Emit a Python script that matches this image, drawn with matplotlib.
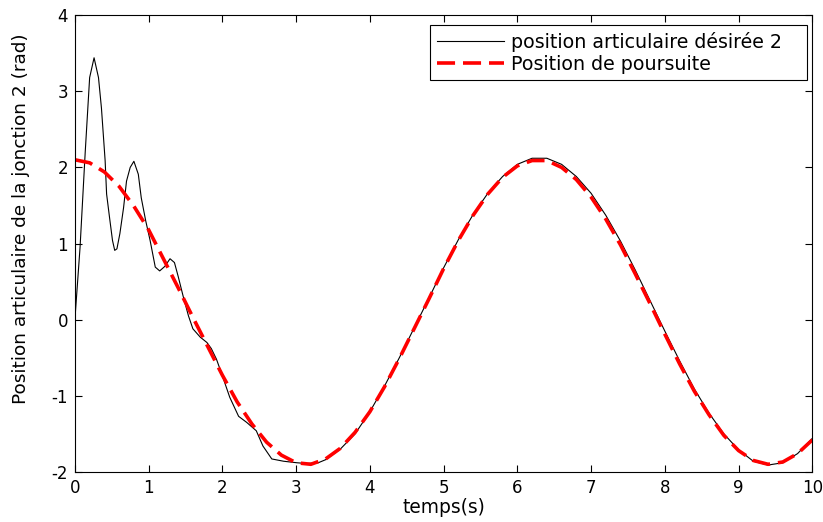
import numpy as np
import matplotlib
matplotlib.use("Agg")
import matplotlib.pyplot as plt

matplotlib.rcParams.update({'font.family': ['DejaVu Sans'], 'font.size': 12,
                            'axes.unicode_minus': False})

# desired joint position (black)
t_des = [0.00, 0.07, 0.14, 0.20, 0.26, 0.32, 0.36, 0.41, 0.43, 0.47, 0.51, 0.54, 0.57,
         0.61, 0.66, 0.70, 0.75, 0.80, 0.86, 0.90, 0.96, 1.02, 1.09, 1.15, 1.22, 1.29,
         1.35, 1.40, 1.47, 1.54, 1.60, 1.70, 1.79, 1.85, 1.92, 1.99, 2.10, 2.22, 2.33,
         2.46, 2.55, 2.67, 2.83, 3.01, 3.14, 3.30,
         3.4, 3.6, 3.8, 4.0, 4.2, 4.4, 4.6, 4.8, 5.0, 5.2, 5.4, 5.6, 5.8, 6.0, 6.2, 6.4,
         6.6, 6.8, 7.0, 7.2, 7.4, 7.6, 7.8, 8.0, 8.2, 8.4, 8.6, 8.8, 9.0, 9.2, 9.4, 9.6,
         9.8, 10.0]
y_des = [0.00, 0.95, 2.20, 3.18, 3.44, 3.18, 2.78, 2.09, 1.65, 1.34, 1.04, 0.91, 0.93,
         1.13, 1.47, 1.82, 2.00, 2.08, 1.91, 1.60, 1.30, 1.04, 0.69, 0.64, 0.70, 0.80,
         0.75, 0.57, 0.30, 0.05, -0.12, -0.23, -0.30, -0.38, -0.52, -0.71, -1.02, -1.27, -1.35,
         -1.46, -1.66, -1.83, -1.86, -1.88, -1.89, -1.88,
         -1.84, -1.70, -1.50, -1.21, -0.87, -0.50, -0.11, 0.28, 0.68, 1.05, 1.38, 1.66,
         1.88, 2.04, 2.12, 2.12, 2.04, 1.88, 1.66, 1.37, 1.03, 0.65, 0.25, -0.15, -0.54,
         -0.91, -1.23, -1.50, -1.71, -1.86, -1.91, -1.88, -1.76, -1.56]

# tracking position (red dashed)
t_pour = [0.0, 0.2, 0.4, 0.6, 0.8, 1.0, 1.2, 1.4, 1.6, 1.8, 2.0, 2.2, 2.4, 2.6, 2.8,
          3.0, 3.2, 3.4, 3.6, 3.8, 4.0, 4.2, 4.4, 4.6, 4.8, 5.0, 5.2, 5.4, 5.6, 5.8,
          6.0, 6.2, 6.4, 6.6, 6.8, 7.0, 7.2, 7.4, 7.6, 7.8, 8.0, 8.2, 8.4, 8.6, 8.8,
          9.0, 9.2, 9.4, 9.6, 9.8, 10.0]
y_pour = [2.10, 2.06, 1.94, 1.75, 1.49, 1.18, 0.80, 0.42, 0.03, -0.35, -0.73, -1.08,
          -1.37, -1.61, -1.78, -1.88, -1.90, -1.83, -1.69, -1.48, -1.21, -0.88, -0.51,
          -0.12, 0.27, 0.67, 1.04, 1.37, 1.65, 1.87, 2.02, 2.09, 2.09, 2.00, 1.84, 1.61,
          1.32, 0.98, 0.60, 0.21, -0.19, -0.58, -0.94, -1.25, -1.52, -1.72, -1.85, -1.90,
          -1.87, -1.76, -1.58]

fig = plt.figure(figsize=(8.23, 5.22), dpi=100)
ax = fig.add_axes([0.091, 0.096, 0.896, 0.875])

ax.plot(t_des, y_des, color='black', lw=0.8, label="position articulaire désirée 2")
ax.plot(t_pour, y_pour, color='red', lw=2.6, dashes=(5, 2.2), label="Position de poursuite")

ax.set_xlim(0, 10)
ax.set_ylim(-2, 4)
ax.set_xticks(range(0, 11))
ax.set_yticks(range(-2, 5))
ax.tick_params(direction='in', top=True, right=True, length=5, labelsize=12, pad=5)
ax.set_xlabel("temps(s)", fontsize=13.4, labelpad=1)
ax.set_ylabel("Position articulaire de la jonction 2 (rad)", fontsize=13.3)
ax.yaxis.set_label_coords(-0.061, 0.554)

# legend box stretched to the width seen in the reference
leg = ax.legend(loc='upper left', bbox_to_anchor=(0.482, 0.878, 0.511, 0.1), mode='expand',
                borderaxespad=0, fancybox=False, edgecolor='black', framealpha=1,
                fontsize=13.7, handlelength=3.5, handletextpad=0.4, borderpad=0.35,
                labelspacing=0.15)
leg.get_frame().set_linewidth(0.8)

plt.savefig("out.png", dpi=100)
